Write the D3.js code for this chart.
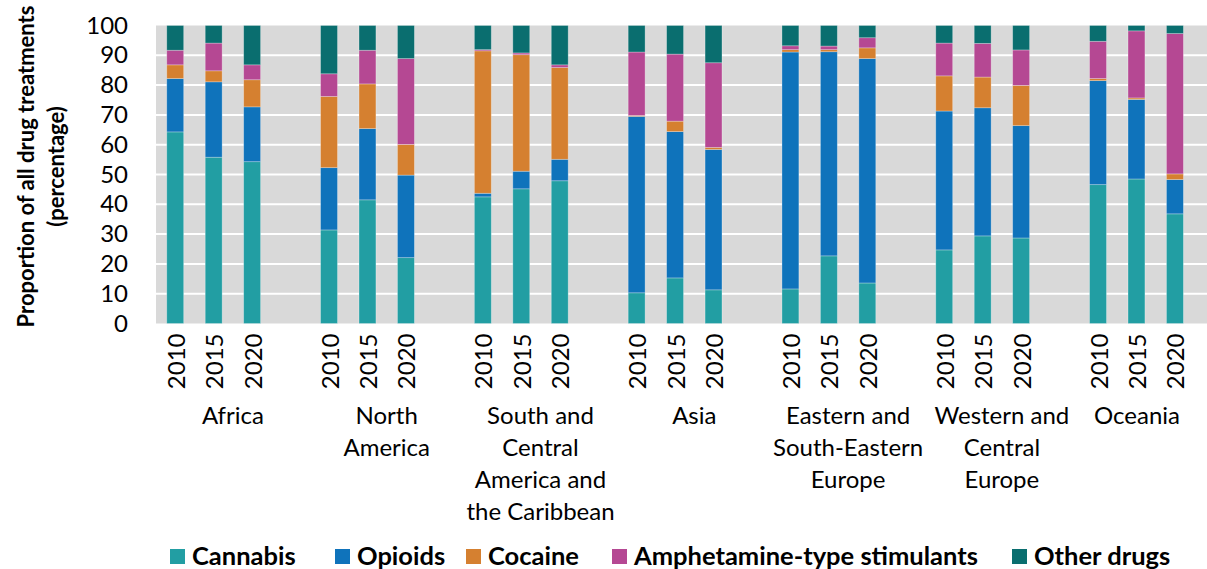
<!DOCTYPE html>
<html>
<head>
<meta charset="utf-8">
<script src="https://cdn.jsdelivr.net/npm/d3@7"></script>
<style>
  html, body { margin: 0; padding: 0; background: #fff; }
  svg { display: block; font-family: Lato, "Open Sans", sans-serif; }
</style>
</head>
<body>
<svg id="chart" width="1207" height="569"></svg>
<script>
// ---- data ----
const regions = [
  ["Africa"],
  ["North", "America"],
  ["South and", "Central", "America and", "the Caribbean"],
  ["Asia"],
  ["Eastern and", "South-Eastern", "Europe"],
  ["Western and", "Central", "Europe"],
  ["Oceania"]
];
const years = ["2010", "2015", "2020"];
const drugs = ["Cannabis", "Opioids", "Cocaine", "Amphetamine-type stimulants", "Other drugs"];
const colors = ["#229EA3", "#0F73BB", "#D58030", "#B54893", "#0A6E6F"];
const yTicks = [0, 10, 20, 30, 40, 50, 60, 70, 80, 90, 100];

// values per region, per year (2010, 2015, 2020)
const cannabis = [
  [64.3, 55.8, 54.3],
  [31.4, 41.5, 22.1],
  [42.5, 45.2, 47.9],
  [10.3, 15.3, 11.3],
  [11.6, 22.7, 13.6],
  [24.7, 29.4, 28.7],
  [46.6, 48.5, 36.8]
];
const opioids = [
  [17.9, 25.3, 18.4],
  [20.9, 23.9, 27.7],
  [1.2, 5.9, 7.2],
  [59.2, 49.1, 47.1],
  [79.5, 68.5, 75.3],
  [46.6, 43.0, 37.7],
  [34.9, 26.7, 11.5]
];
const cocaine = [
  [4.6, 3.7, 9.1],
  [23.9, 15.0, 10.3],
  [47.8, 39.1, 30.8],
  [0.3, 3.5, 0.7],
  [0.8, 0.7, 3.6],
  [11.8, 10.3, 13.5],
  [0.7, 0.5, 1.9]
];
const ats = [
  [4.9, 9.3, 5.0],
  [7.6, 11.3, 28.8],
  [0.4, 0.6, 0.9],
  [21.3, 22.5, 28.4],
  [1.3, 1.2, 3.4],
  [11.0, 11.3, 11.9],
  [12.5, 22.5, 47.1]
];
const otherDrugs = [
  [8.3, 5.9, 13.2],
  [16.2, 8.3, 11.1],
  [8.1, 9.2, 13.2],
  [8.9, 9.6, 12.5],
  [6.8, 6.9, 4.1],
  [5.9, 6.0, 8.2],
  [5.3, 1.8, 2.7]
];
const seriesValues = [cannabis, opioids, cocaine, ats, otherDrugs];

// ---- layout ----
const W = 1207, H = 569;
const plot = { left: 156, top: 25.5, bottom: 323.5 };
const slotStep = 38.45;
const svg = d3.select("#chart");

// slots: each region has 3 years plus one empty slot
const slots = [];
regions.forEach((r, gi) => {
  years.forEach(y => slots.push(gi + "|" + y));
  slots.push(gi + "|gap");
});
const plotRight = plot.left + slots.length * slotStep;

const x = d3.scaleBand().domain(slots).range([plot.left, plotRight])
  .paddingInner(0.56).paddingOuter(0.28);
const y = d3.scaleLinear().domain([0, 100]).range([plot.bottom, plot.top]);

// background
svg.append("rect")
  .attr("x", plot.left).attr("y", plot.top)
  .attr("width", plotRight - plot.left).attr("height", plot.bottom - plot.top)
  .attr("fill", "#D9D9D9");

// gridlines
svg.append("g").selectAll("line").data(yTicks.filter(t => t > 0 && t < 100)).join("line")
  .attr("x1", plot.left).attr("x2", plotRight)
  .attr("y1", d => y(d)).attr("y2", d => y(d))
  .attr("stroke", "#fff").attr("stroke-width", 2);

// stacked data
const rows = [];
regions.forEach((r, gi) => years.forEach((yr, yi) => {
  const row = { key: gi + "|" + yr };
  drugs.forEach((d, di) => row[d] = seriesValues[di][gi][yi]);
  rows.push(row);
}));
const stacked = d3.stack().keys(drugs)(rows);

svg.append("g").selectAll("g").data(stacked).join("g")
  .attr("fill", (d, i) => colors[i])
  .selectAll("rect").data(d => d).join("rect")
  .attr("x", d => x(d.data.key))
  .attr("width", x.bandwidth())
  .attr("y", d => y(d[1]))
  .attr("height", d => y(d[0]) - y(d[1]))
  .attr("stroke", "rgba(255,255,255,0.35)")
  .attr("stroke-width", 0.8);

// y axis
const yAxis = d3.axisLeft(y).tickValues(yTicks).tickSize(0).tickPadding(0);
const gy = svg.append("g").attr("transform", `translate(${128},0)`).call(yAxis);
gy.select(".domain").remove();
gy.selectAll("text").attr("font-size", 24).attr("fill", "#000")
  .attr("font-family", "Lato, sans-serif");

// x year labels
const xAxis = d3.axisBottom(x).tickValues(rows.map(r => r.key))
  .tickFormat(d => d.split("|")[1]).tickSize(0);
const gx = svg.append("g").attr("transform", `translate(0,${plot.bottom})`).call(xAxis);
gx.select(".domain").remove();
gx.selectAll("text")
  .attr("font-size", 24).attr("fill", "#000").attr("font-family", "Lato, sans-serif")
  .attr("text-anchor", "end").attr("dy", null).attr("y", 0)
  .attr("dominant-baseline", "central")
  .attr("transform", "translate(0,10) rotate(-90)");

// region labels
const lblG = svg.append("g").attr("font-size", 24).attr("fill", "#000");
regions.forEach((lines, gi) => {
  const x0 = x(gi + "|2010") - x.step() * x.paddingInner() / 2;
  const x1 = x(gi + "|gap") + x.bandwidth() + x.step() * x.paddingInner() / 2;
  const t = lblG.append("text").attr("text-anchor", "middle");
  lines.forEach((ln, li) => t.append("tspan").attr("y", 424 + li * 32).text(ln));
  const tw = t.node().getBBox().width;
  const cx = Math.min((x0 + x1) / 2, 1180 - tw / 2);
  t.attr("x", cx).selectAll("tspan").attr("x", cx);
});

// y title
const yt = svg.append("text").attr("font-weight", "bold").attr("font-size", 22)
  .attr("text-anchor", "middle")
  .attr("transform", `translate(0,${(plot.top + plot.bottom) / 2 - 8}) rotate(-90)`);
yt.append("tspan").attr("x", 0).attr("y", 34).text("Proportion of all drug treatments");
yt.append("tspan").attr("x", 0).attr("y", 64).text("(percentage)");

// legend
const legendX = [170, 335, 466, 612, 1012];
const lg = svg.append("g").selectAll("g").data(drugs).join("g")
  .attr("transform", (d, i) => `translate(${legendX[i]},549)`);
lg.append("rect").attr("width", 15).attr("height", 15).attr("fill", (d, i) => colors[i]);
lg.append("text").attr("x", 22).attr("y", 16).attr("font-weight", "bold")
  .attr("font-size", 25.5).text(d => d);
</script>
</body>
</html>
